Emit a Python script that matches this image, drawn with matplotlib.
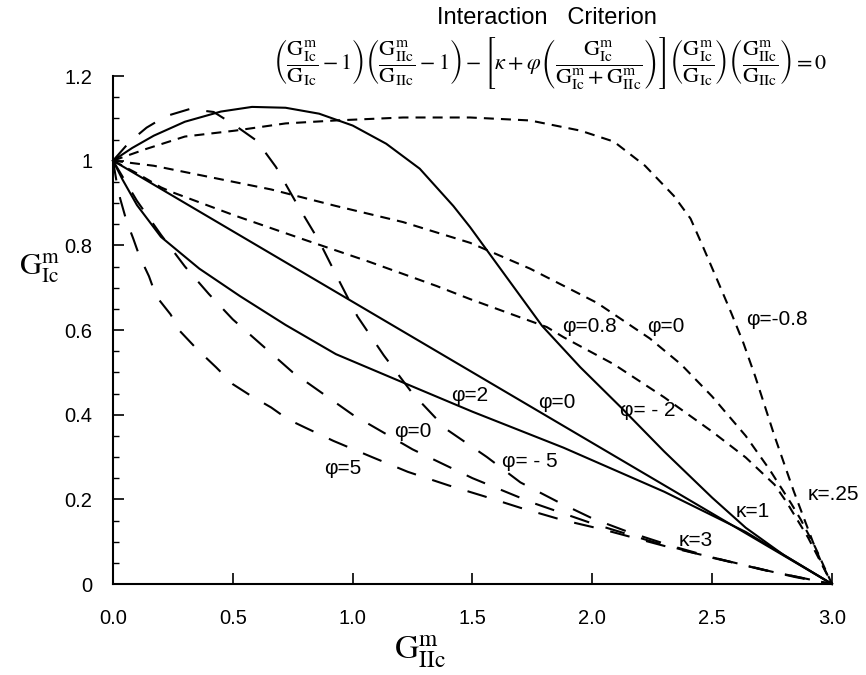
import matplotlib
matplotlib.use("Agg")
import matplotlib.pyplot as plt
from matplotlib.ticker import MultipleLocator, FuncFormatter

plt.rcParams["font.family"] = ["Liberation Sans", "DejaVu Sans"]
plt.rcParams["mathtext.fontset"] = "stix"

# kappa = 0.25 (short dashes)
k025_m08_x = [0, 0.14, 0.30, 0.51, 0.72, 0.93, 1.21, 1.49, 1.74, 1.95, 2.09, 2.22,
              2.34, 2.41, 2.46, 2.52, 2.58, 2.63, 2.68, 2.72, 2.76, 2.80, 2.84,
              2.88, 2.92, 2.96, 3.0]
k025_m08_y = [1.0, 1.028, 1.057, 1.071, 1.088, 1.095, 1.102, 1.102, 1.095, 1.071,
              1.045, 0.988, 0.917, 0.863, 0.799, 0.72, 0.64, 0.57, 0.49, 0.42,
              0.35, 0.285, 0.22, 0.16, 0.10, 0.045, 0.0]

k025_0_x = [0, 0.17, 0.38, 0.66, 0.93, 1.21, 1.49, 1.74, 2.02, 2.24, 2.37, 2.50,
            2.64, 2.74, 2.83, 2.87, 2.93, 3.0]
k025_0_y = [1.0, 0.988, 0.964, 0.932, 0.893, 0.855, 0.806, 0.745, 0.664, 0.58,
            0.519, 0.443, 0.35, 0.27, 0.19, 0.152, 0.087, 0.0]

k025_08_x = [0, 0.1, 0.2, 0.24, 0.51, 0.79, 1.07, 1.35, 1.49, 1.81, 1.88, 2.09,
             2.30, 2.50, 2.64, 2.76, 2.81, 2.9, 3.0]
k025_08_y = [1.0, 0.97, 0.937, 0.927, 0.870, 0.815, 0.761, 0.704, 0.673, 0.607,
             0.583, 0.519, 0.441, 0.36, 0.299, 0.235, 0.194, 0.11, 0.0]

# kappa = 1 (solid)
k1_m2_x = [0, 0.08, 0.17, 0.30, 0.45, 0.58, 0.72, 0.86, 1.0, 1.14, 1.28, 1.42,
           1.49, 1.79, 1.95, 2.12, 2.30, 2.50, 2.64, 2.80, 3.0]
k1_m2_y = [1.0, 1.03, 1.059, 1.092, 1.116, 1.127, 1.125, 1.111, 1.083, 1.04,
           0.981, 0.893, 0.843, 0.61, 0.512, 0.417, 0.313, 0.204, 0.133, 0.068, 0.0]

k1_0_x = [0, 3.0]
k1_0_y = [1.0, 0.0]

k1_2_x = [0, 0.04, 0.1, 0.2, 0.36, 0.53, 0.72, 0.93, 1.21, 1.5, 1.88, 2.3, 2.64, 3.0]
k1_2_y = [1.0, 0.955, 0.895, 0.82, 0.745, 0.68, 0.612, 0.543, 0.476, 0.407,
          0.322, 0.218, 0.123, 0.0]

# kappa = 3 (long dashes)
k3_m5_x = [0, 0.07, 0.14, 0.22, 0.32, 0.42, 0.51, 0.60, 0.68, 0.77, 0.86, 0.94,
           1.02, 1.13, 1.25, 1.39, 1.56, 1.70, 1.86, 2.0, 2.15, 2.33, 2.5, 2.7,
           2.85, 3.0]
k3_m5_y = [1.0, 1.045, 1.078, 1.105, 1.122, 1.115, 1.083, 1.047, 0.985, 0.895,
           0.81, 0.72, 0.632, 0.54, 0.45, 0.366, 0.3, 0.24, 0.193, 0.155, 0.123,
           0.09, 0.063, 0.035, 0.016, 0.0]

k3_0_x = [0, 0.1, 0.2, 0.3, 0.4, 0.5, 0.75, 1.0, 1.25, 1.5, 1.75, 2.0, 2.25, 2.5,
          2.75, 3.0]
k3_0_y = [1.0, 0.905, 0.825, 0.75, 0.685, 0.625, 0.5, 0.4, 0.318, 0.25, 0.192,
          0.143, 0.1, 0.062, 0.029, 0.0]

k3_5_x = [0, 0.015, 0.03, 0.055, 0.085, 0.11, 0.15, 0.18, 0.24, 0.28, 0.35, 0.43,
          0.5, 0.58, 0.66, 0.73, 0.8, 0.92, 1.08, 1.23, 1.4, 1.55, 1.7, 1.87,
          2.05, 2.3, 2.5, 2.75, 3.0]
k3_5_y = [1.0, 0.95, 0.91, 0.86, 0.815, 0.775, 0.727, 0.68, 0.637, 0.597, 0.555,
          0.512, 0.472, 0.443, 0.417, 0.389, 0.37, 0.338, 0.3, 0.265, 0.233,
          0.207, 0.18, 0.152, 0.128, 0.09, 0.063, 0.029, 0.0]

# curve labels: text, x, y
label_text = ["φ=0.8", "φ=0", "φ=-0.8", "φ=2", "φ=0", "φ= - 2", "φ=0", "φ= - 5",
              "φ=5", "κ=1", "κ=.25", "κ=3"]
label_x = [1.99, 2.305, 2.77, 1.49, 1.85, 2.23, 1.25, 1.74, 0.96, 2.67, 3.005, 2.43]
label_y = [0.608, 0.608, 0.626, 0.445, 0.428, 0.41, 0.361, 0.289, 0.274, 0.171,
           0.211, 0.102]

SHORT = (4.8, 3.4)
LONG = (9.6, 8.2)

fig = plt.figure(figsize=(8.66, 6.75), dpi=100)
ax = fig.add_axes([0.1305, 0.1348, 0.8302, 0.7526])

lw = 1.5
for xs, ys in [(k025_m08_x, k025_m08_y), (k025_0_x, k025_0_y), (k025_08_x, k025_08_y)]:
    ax.plot(xs, ys, color="black", lw=lw, dashes=SHORT, clip_on=False)
for xs, ys in [(k1_m2_x, k1_m2_y), (k1_0_x, k1_0_y), (k1_2_x, k1_2_y)]:
    ax.plot(xs, ys, color="black", lw=lw, clip_on=False)
for xs, ys in [(k3_m5_x, k3_m5_y), (k3_0_x, k3_0_y), (k3_5_x, k3_5_y)]:
    ax.plot(xs, ys, color="black", lw=lw, dashes=LONG, clip_on=False)

for t, x, y in zip(label_text, label_x, label_y):
    ax.text(x, y, t, fontsize=15, ha="center", va="center", clip_on=False)

ax.set_xlim(0, 3.0)
ax.set_ylim(0, 1.2)
ax.spines["top"].set_visible(False)
ax.spines["right"].set_visible(False)
ax.spines["left"].set_linewidth(1.5)
ax.spines["bottom"].set_linewidth(1.5)

ax.xaxis.set_major_locator(MultipleLocator(0.5))
ax.yaxis.set_major_locator(MultipleLocator(0.2))
ax.yaxis.set_minor_locator(MultipleLocator(0.05))
ax.xaxis.set_major_formatter(FuncFormatter(lambda v, p: f"{v:.1f}"))
ax.yaxis.set_major_formatter(FuncFormatter(lambda v, p: f"{round(v, 1):g}"))
ax.tick_params(axis="both", which="major", direction="in", length=8, width=1.2,
               labelsize=14.5)
ax.tick_params(axis="y", which="minor", direction="in", length=4, width=1.0)
ax.tick_params(axis="x", which="major", pad=18)
ax.tick_params(axis="y", which="major", pad=15)

# title and criterion
fig.text(0.632, 1 - 18 / 675, "Interaction   Criterion", ha="center", va="center",
         fontsize=17)
GI = r"\mathrm{G}^{\mathrm{m}}_{\mathrm{Ic}}"
GII = r"\mathrm{G}^{\mathrm{m}}_{\mathrm{IIc}}"
cI = r"\mathrm{G}_{\mathrm{Ic}}"
cII = r"\mathrm{G}_{\mathrm{IIc}}"
formula = (r"$\left(\dfrac{" + GI + "}{" + cI + r"} - 1\right)\left(\dfrac{" + GII
           + "}{" + cII + r"} - 1\right) - \left[\kappa + \varphi\left(\dfrac{" + GI
           + "}{" + GI + " + " + GII + r"}\right)\right]\left(\dfrac{" + GI + "}{"
           + cI + r"}\right)\left(\dfrac{" + GII + "}{" + cII + r"}\right) = 0$")
fig.text(0.635, 1 - 63 / 675, formula, ha="center", va="center", fontsize=16)

fig.text(40 / 866, 1 - 268 / 675, "$" + GI + "$", ha="center", va="center",
         fontsize=22)
fig.text(420 / 866, 1 - 652 / 675, "$" + GII + "$", ha="center", va="center",
         fontsize=24)

fig.savefig("out.png", dpi=100)
